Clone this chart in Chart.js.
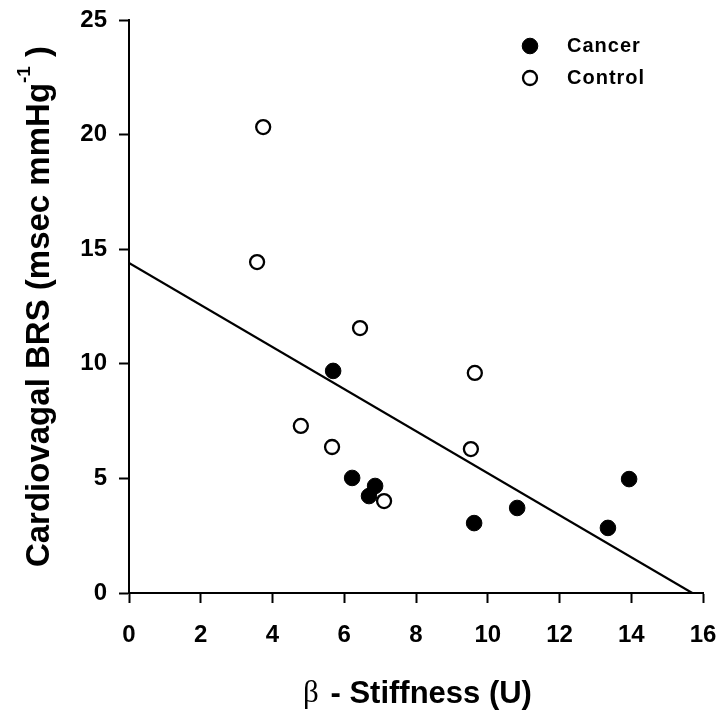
<!DOCTYPE html>
<html>
<head>
<meta charset="utf-8">
<title>Cardiovagal BRS vs Stiffness</title>
<script src="https://cdn.jsdelivr.net/npm/chart.js@4.4.1/dist/chart.umd.min.js"></script>
<style>
    html, body { margin: 0; padding: 0; background: #fff; }
    #wrap { width: 722px; height: 715px; }
</style>
</head>
<body>
<div id="wrap"><canvas id="brs-chart"></canvas></div>
<script>
    // Data
    var cancerX = [5.69, 6.22, 6.86, 6.69, 9.62, 10.82, 13.35, 13.94];
    var cancerY = [9.69, 5.02, 4.67, 4.23, 3.05, 3.71, 2.84, 4.97];

    var controlX = [3.74, 3.57, 6.44, 9.64, 4.79, 5.66, 9.53, 7.11];
    var controlY = [20.33, 14.44, 11.56, 9.60, 7.29, 6.37, 6.28, 4.01];

    // regression line end points
    var fitX = [0, 15.7];
    var fitY = [14.4, 0];

    var xTicks = [0, 2, 4, 6, 8, 10, 12, 14, 16];
    var yTicks = [0, 5, 10, 15, 20, 25];

    function pts(xs, ys) {
        return xs.map(function (x, i) { return { x: x, y: ys[i] }; });
    }

    var tickFont = { family: "'Liberation Sans', Arial, sans-serif", size: 24, weight: 'bold' };

    // Titles + legend drawn by hand
    var extras = {
        id: 'extras',
        afterDraw: function (chart) {
            var ctx = chart.ctx;
            var area = chart.chartArea;
            ctx.save();
            ctx.fillStyle = '#000';
            ctx.textBaseline = 'middle';

            // x title
            var bigX = "bold 31px 'Liberation Sans', Arial, sans-serif";
            var greek = "31px 'Liberation Serif', 'Times New Roman', serif";
            var part1 = '\u03b2';
            var part2 = ' - Stiffness (U)';
            ctx.font = greek;
            var w1 = ctx.measureText(part1).width;
            ctx.font = bigX;
            var w2 = ctx.measureText(part2).width;
            var cx = (area.left + area.right) / 2;
            var sx = cx - (w1 + w2) / 2;
            ctx.textAlign = 'left';
            ctx.font = greek;
            ctx.fillText(part1, sx, 694);
            ctx.font = bigX;
            ctx.fillText(part2, sx + w1 + 3, 694);

            // y title, rotated
            var big = "bold 33px 'Liberation Sans', Arial, sans-serif";
            var t1 = 'Cardiovagal BRS (msec mmHg';
            var t2 = '-1';
            var t3 = ' )';
            var small = "bold 19px 'Liberation Sans', Arial, sans-serif";
            ctx.font = big;
            var a = ctx.measureText(t1).width;
            var c = ctx.measureText(t3).width;
            ctx.font = small;
            var b = ctx.measureText(t2).width;
            var cy = (area.top + area.bottom) / 2;
            ctx.translate(40, cy);
            ctx.rotate(-Math.PI / 2);
            var start = -(a + b + c) / 2;
            ctx.font = big;
            ctx.fillText(t1, start, 0);
            ctx.font = small;
            ctx.fillText(t2, start + a, -15);
            ctx.font = big;
            ctx.fillText(t3, start + a + b, 0);
            ctx.restore();

            // legend
            ctx.save();
            var sets = [chart.data.datasets[0], chart.data.datasets[1]];
            sets.forEach(function (ds, i) {
                var ly = 46 + 32 * i;
                ctx.beginPath();
                ctx.arc(530, ly, ds.pointRadius, 0, Math.PI * 2);
                ctx.fillStyle = ds.backgroundColor;
                ctx.fill();
                ctx.lineWidth = ds.borderWidth;
                ctx.strokeStyle = ds.borderColor;
                ctx.stroke();
                ctx.fillStyle = '#000';
                ctx.font = "bold 20px 'Liberation Sans', Arial, sans-serif";
                ctx.letterSpacing = '1px';
                ctx.textAlign = 'left';
                ctx.textBaseline = 'middle';
                ctx.fillText(ds.label, 567, ly);
            });
            ctx.restore();
        }
    };

    var ctx1 = document.getElementById('brs-chart').getContext('2d');
    var myChart = new Chart(ctx1, {
        type: 'scatter',
        data: {
            datasets: [{
                label: 'Cancer',
                data: pts(cancerX, cancerY),
                backgroundColor: '#000',
                borderColor: '#000',
                borderWidth: 1,
                pointRadius: 7.8,
                order: 1
            },
            {
                label: 'Control',
                data: pts(controlX, controlY),
                backgroundColor: '#fff',
                borderColor: '#000',
                borderWidth: 2.3,
                pointRadius: 7,
                order: 0
            },
            {
                type: 'line',
                label: 'fit',
                data: pts(fitX, fitY),
                borderColor: '#000',
                borderWidth: 2.2,
                pointRadius: 0,
                fill: false,
                order: 2
            }]
        },
        options: {
            responsive: true,
            maintainAspectRatio: false,
            animation: false,
            layout: { padding: { top: 20, right: 19, left: 0, bottom: 0 } },
            plugins: {
                legend: { display: false },
                tooltip: { enabled: false }
            },
            scales: {
                x: {
                    type: 'linear',
                    min: 0,
                    max: 16,
                    afterBuildTicks: function (scale) {
                        scale.ticks = xTicks.map(function (v) { return { value: v }; });
                    },
                    afterFit: function (scale) {
                        scale.height = 122;
                        scale.paddingLeft = 0;
                        scale.paddingRight = 0;
                    },
                    grid: { drawOnChartArea: false, drawTicks: true, tickLength: 10, tickColor: '#000', tickWidth: 2 },
                    border: { color: '#000', width: 2 },
                    ticks: { color: '#000', font: tickFont, padding: 18, maxRotation: 0 }
                },
                y: {
                    type: 'linear',
                    min: 0,
                    max: 25,
                    afterBuildTicks: function (scale) {
                        scale.ticks = yTicks.map(function (v) { return { value: v }; });
                    },
                    afterFit: function (scale) {
                        scale.width = 129;
                        scale.paddingTop = 0;
                        scale.paddingBottom = 0;
                    },
                    grid: { drawOnChartArea: false, drawTicks: true, tickLength: 10, tickColor: '#000', tickWidth: 2 },
                    border: { color: '#000', width: 2 },
                    ticks: { color: '#000', font: tickFont, padding: 12 }
                }
            }
        },
        plugins: [extras]
    });
</script>
</body>
</html>
